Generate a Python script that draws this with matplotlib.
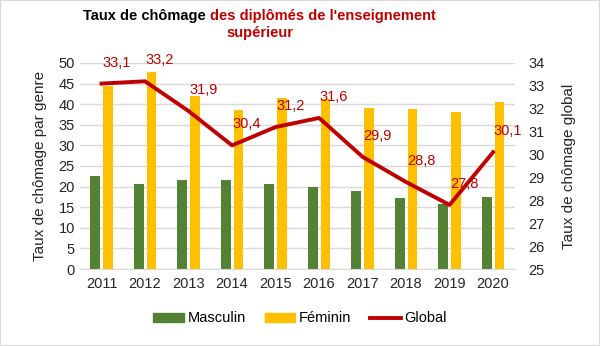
import numpy as np
import matplotlib.pyplot as plt
from matplotlib.patches import Rectangle
from matplotlib.lines import Line2D
from matplotlib.patches import Patch

plt.rcParams['font.family'] = ['Liberation Sans', 'DejaVu Sans']

# data
years = ['2011', '2012', '2013', '2014', '2015', '2016', '2017', '2018', '2019', '2020']
masculin = [22.6, 20.6, 21.6, 21.6, 20.7, 20.0, 19.0, 17.2, 15.7, 17.5]
feminin = [44.3, 47.7, 42.0, 38.6, 41.5, 41.2, 39.0, 38.8, 38.1, 40.6]
global_rate = [33.1, 33.2, 31.9, 30.4, 31.2, 31.6, 29.9, 28.8, 27.8, 30.1]

green = '#548235'
yellow = '#FFC000'
red = '#C00000'

fig = plt.figure(figsize=(6, 3.46), dpi=100)
ax = fig.add_axes([0.133, 0.2225, 0.725, 0.5955])
ax2 = ax.twinx()

x = np.arange(len(years))
w = 0.22
ax.bar(x - 0.035 - w / 2, masculin, w, color=green, zorder=2)
ax.bar(x + 0.035 + w / 2, feminin, w, color=yellow, zorder=2)

ax.set_ylim(0, 50)
ax.set_yticks(range(0, 51, 5))
ax.set_xlim(-0.5, len(years) - 0.5)
ax.set_xticks(x)
ax.set_xticklabels(years)
ax.grid(axis='y', color='#D9D9D9', linewidth=1, zorder=0)
ax.set_axisbelow(True)
ax.tick_params(length=0, labelsize=10.5, colors='#262626')
ax.tick_params(axis='x', pad=6)
for s in ax.spines.values():
    s.set_visible(False)
ax.spines['bottom'].set_visible(True)
ax.spines['bottom'].set_color('#D9D9D9')
ax.set_ylabel('Taux de chômage par genre', fontsize=11, color='#262626', labelpad=8)

ax2.plot(x, global_rate, color=red, linewidth=2.8, zorder=3)
ax2.set_ylim(25, 34)
ax2.set_yticks(range(25, 35))
ax2.tick_params(length=0, labelsize=10.5, colors='#262626', pad=10)
for s in ax2.spines.values():
    s.set_visible(False)
ax2.set_ylabel('Taux de chômage global', fontsize=11, color='#262626', labelpad=12)

for xi, v in zip(x, global_rate):
    ax2.annotate(f'{v:.1f}'.replace('.', ','), (xi, v), textcoords='offset pixels',
                 xytext=(15, 21), ha='center', va='center', color=red, fontsize=10.5)

# title with two colours, centred together
title_size = 10.5
cx = 0.433
t1 = fig.text(0, 0.953, 'Taux de chômage ', ha='left', va='center',
              fontsize=title_size, fontweight='bold', color='black')
t2 = fig.text(0, 0.953, "des diplômés de l'enseignement", ha='left', va='center',
              fontsize=title_size, fontweight='bold', color=red)
r = fig.canvas.get_renderer()
w1 = t1.get_window_extent(r).width / fig.bbox.width
w2 = t2.get_window_extent(r).width / fig.bbox.width
t1.set_x(cx - (w1 + w2) / 2)
t2.set_x(cx - (w1 + w2) / 2 + w1)
fig.text(cx, 0.905, 'supérieur', ha='center', va='center',
         fontsize=title_size, fontweight='bold', color=red)

handles = [Patch(color=green), Patch(color=yellow), Line2D([0], [0], color=red, linewidth=2.8)]
fig.legend(handles, ['Masculin', 'Féminin', 'Global'], loc='center', bbox_to_anchor=(0.5, 0.08),
           ncol=3, frameon=False, fontsize=10.5, handlelength=2.1, handleheight=0.55,
           columnspacing=1.3, handletextpad=0.25)

fig.patches.append(Rectangle((0, 0), 1, 1, transform=fig.transFigure, fill=False,
                             edgecolor='#D9D9D9', linewidth=1.5))

fig.savefig('out.png', dpi=100)
